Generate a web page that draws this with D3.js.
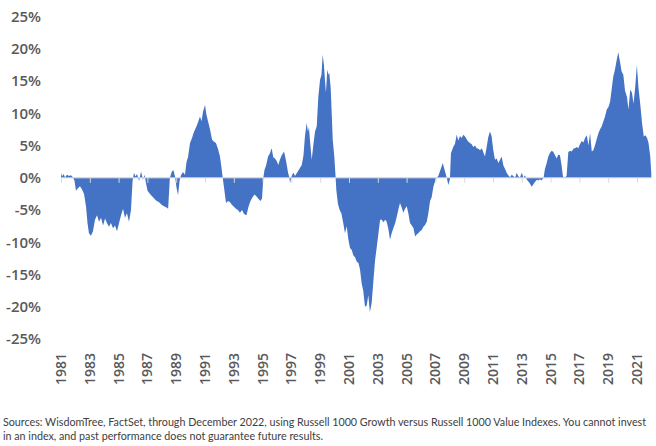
<!DOCTYPE html>
<html>
<head>
<meta charset="utf-8">
<script src="https://cdn.jsdelivr.net/npm/d3@7"></script>
<style>
  html, body { margin: 0; padding: 0; background: #ffffff; }
  svg { display: block; }
</style>
</head>
<body>
<svg id="chart" width="656" height="446"></svg>
<script>
// ---- data (decimal year, relative performance %) ----
const dates = [
  1981.00,1981.07,1981.17,1981.28,1981.42,1981.56,1981.69,1981.83,1981.94,
  1982.04,1982.18,1982.32,1982.46,1982.60,1982.74,1982.84,1982.94,
  1983.08,1983.22,1983.36,1983.50,1983.64,1983.78,1983.92,
  1984.06,1984.19,1984.33,1984.47,1984.61,1984.75,1984.89,
  1985.03,1985.17,1985.31,1985.44,1985.58,1985.72,1985.86,1985.97,
  1986.07,1986.17,1986.28,1986.42,1986.56,1986.69,1986.80,1986.90,
  1987.01,1987.18,1987.39,1987.60,1987.81,
  1988.01,1988.15,1988.33,1988.44,1988.56,1988.70,1988.80,1988.92,
  1989.02,1989.13,1989.23,1989.33,1989.47,1989.61,1989.72,1989.82,1989.96,
  1990.10,1990.20,1990.31,1990.41,1990.51,1990.65,1990.76,1990.86,
  1991.00,1991.10,1991.21,1991.35,1991.49,1991.63,1991.76,1991.90,
  1992.04,1992.15,1992.23,1992.32,1992.46,1992.60,1992.74,1992.88,
  1993.01,1993.15,1993.29,1993.43,1993.57,1993.71,1993.88,
  1994.02,1994.16,1994.30,1994.44,1994.58,1994.72,1994.85,1994.96,
  1995.05,1995.13,1995.24,1995.38,1995.51,1995.63,1995.74,1995.86,1995.98,
  1996.09,1996.20,1996.33,1996.49,1996.63,1996.77,1996.84,1996.91,1996.98,
  1997.08,1997.15,1997.25,1997.39,1997.53,1997.72,1997.84,1997.94,
  1998.06,1998.15,1998.22,1998.29,1998.41,1998.52,1998.64,1998.76,1998.87,1998.99,
  1999.09,1999.17,1999.26,1999.33,1999.40,1999.49,1999.57,1999.63,1999.73,1999.80,1999.87,1999.98,
  2000.06,2000.12,2000.23,2000.35,2000.47,2000.60,2000.72,2000.84,2000.95,
  2001.07,2001.19,2001.30,2001.42,2001.54,2001.66,2001.77,2001.88,2001.99,
  2002.11,2002.23,2002.34,2002.45,2002.57,2002.70,2002.81,2002.93,
  2003.05,2003.16,2003.28,2003.39,2003.51,2003.62,2003.74,2003.85,2003.97,
  2004.08,2004.21,2004.32,2004.42,2004.54,2004.66,2004.77,2004.89,
  2005.01,2005.12,2005.24,2005.36,2005.48,2005.59,2005.70,2005.81,2005.93,
  2006.05,2006.17,2006.28,2006.40,2006.51,2006.63,2006.74,2006.86,2006.98,
  2007.09,2007.20,2007.36,2007.51,2007.64,2007.78,2007.90,
  2008.01,2008.08,2008.24,2008.36,2008.48,2008.59,2008.71,2008.83,2008.94,
  2009.06,2009.17,2009.29,2009.40,2009.52,2009.63,2009.75,2009.87,2009.99,
  2010.10,2010.22,2010.34,2010.44,2010.56,2010.67,2010.79,2010.90,
  2011.02,2011.14,2011.26,2011.37,2011.49,2011.60,2011.72,2011.83,2011.95,
  2012.06,2012.18,2012.30,2012.41,2012.53,2012.65,2012.76,2012.88,
  2013.00,2013.12,2013.22,2013.35,2013.47,2013.57,2013.69,2013.81,2013.92,
  2014.05,2014.16,2014.26,2014.37,2014.51,2014.61,2014.73,2014.84,2014.96,
  2015.08,2015.19,2015.31,2015.42,2015.53,2015.65,2015.77,2015.86,2015.97,
  2016.11,2016.23,2016.35,2016.47,2016.58,2016.69,2016.81,2016.92,
  2017.04,2017.16,2017.28,2017.39,2017.51,2017.63,2017.74,2017.86,2017.97,
  2018.08,2018.20,2018.33,2018.43,2018.55,2018.67,2018.78,2018.90,
  2019.02,2019.13,2019.24,2019.35,2019.47,2019.59,2019.70,2019.82,2019.93,
  2020.05,2020.17,2020.30,2020.41,2020.53,2020.65,2020.76,2020.89,2020.99,
  2021.10,2021.24,2021.35,2021.47,2021.58,2021.70,2021.80,2021.92,2021.99
];
const values = [
  0.8,0.2,0.6,0.1,0.5,0.3,0.4,0.1,-0.5,
  -2.0,-1.6,-1.3,-1.8,-2.5,-4.5,-7.0,-8.6,
  -9.0,-8.3,-6.5,-5.8,-6.8,-6.2,-7.4,
  -6.3,-7.0,-7.6,-7.0,-7.8,-7.4,-8.3,
  -7.0,-5.8,-4.8,-6.2,-5.5,-6.8,-5.0,-0.5,
  0.8,0.2,0.6,-0.5,1.0,-0.3,0.5,-0.8,
  -2.0,-2.5,-3.0,-3.5,-3.8,
  -4.2,-4.4,-4.6,-4.8,0.0,1.0,1.2,0.2,
  -1.5,-2.7,-0.5,0.4,0.9,0.5,2.5,3.2,5.4,
  6.2,6.9,7.5,8.0,8.6,9.5,8.8,10.2,
  11.3,9.8,8.8,7.5,5.9,5.6,5.4,4.5,
  3.3,1.5,0.0,-1.5,-3.9,-3.6,-3.8,-4.2,
  -4.5,-4.8,-5.0,-5.4,-5.0,-5.6,-5.8,
  -4.5,-3.6,-3.0,-2.6,-2.9,-3.3,-3.6,-3.2,
  0.0,1.2,1.9,3.3,3.8,4.6,3.2,3.0,2.6,
  2.0,2.8,3.5,4.1,2.6,0.8,0.2,-0.8,0.0,
  0.6,0.8,0.3,0.8,1.3,2.0,3.5,6.4,
  8.5,7.2,7.8,5.8,2.8,5.0,7.2,8.0,12.6,15.2,
  16.0,19.1,17.5,15.2,13.2,16.8,16.0,16.3,13.9,10.0,5.9,3.3,
  0.5,-1.9,-4.0,-5.0,-5.5,-7.0,-8.6,-7.5,-9.5,
  -10.9,-11.2,-12.0,-12.3,-13.0,-13.2,-14.3,-16.4,-17.5,
  -20.0,-19.8,-18.2,-20.8,-19.5,-15.8,-12.8,-10.7,
  -8.5,-6.5,-6.5,-6.9,-6.5,-6.8,-8.0,-9.6,-8.5,
  -7.8,-7.0,-6.0,-5.0,-3.9,-4.6,-5.4,-4.8,
  -4.4,-5.5,-7.0,-7.4,-7.8,-9.1,-8.8,-8.6,-8.3,
  -8.1,-7.6,-7.3,-6.8,-5.5,-3.6,-3.0,-1.4,-0.5,
  0.0,0.3,1.3,2.3,1.2,0.1,-1.1,
  -0.2,3.8,4.8,5.3,6.7,5.8,6.5,6.2,6.7,
  6.4,6.0,5.6,5.4,5.2,4.8,5.0,4.6,4.5,
  4.3,4.6,3.9,3.3,4.8,6.3,7.2,6.5,
  4.3,2.8,3.0,2.3,2.8,3.3,1.9,1.4,0.8,
  0.4,0.1,0.5,0.3,0.0,0.8,0.2,0.1,
  0.8,0.0,0.4,-0.3,-0.6,-0.9,-1.4,-1.0,-0.6,
  -0.3,-0.4,-0.2,-0.4,0.0,1.4,2.3,3.3,3.9,
  4.2,4.0,3.5,3.0,3.6,3.5,1.8,0.2,0.0,
  0.3,4.0,4.2,4.1,4.5,4.6,4.8,4.6,
  5.2,5.7,5.5,6.2,6.6,5.0,6.9,4.1,4.3,
  5.0,6.0,7.0,7.5,8.0,8.8,9.5,10.6,
  11.0,11.8,13.7,15.7,16.8,18.3,19.5,18.0,16.5,
  16.0,13.5,12.6,10.6,13.7,13.2,11.5,14.5,17.5,
  14.0,11.1,8.5,6.4,6.6,6.2,5.4,3.3,0.8
];
const yTicks = [25, 20, 15, 10, 5, 0, -5, -10, -15, -20, -25];
const xTickYears = [1981,1983,1985,1987,1989,1991,1993,1995,1997,1999,2001,2003,2005,2007,2009,2011,2013,2015,2017,2019,2021];
const footnoteLines = [
  "Sources: WisdomTree, FactSet, through December 2022, using Russell 1000 Growth versus Russell 1000 Value Indexes. You cannot invest",
  "in an index, and past performance does not guarantee future results."
];

// ---- layout ----
const svg = d3.select("#chart");
const x = d3.scaleLinear().domain([1981, 2021]).range([61, 637]);
const y = d3.scaleLinear().domain([-25, 25]).range([339, 16.7]);

const data = dates.map((d, i) => ({ d, v: values[i] }));

// area
const area = d3.area()
  .x(p => x(p.d))
  .y0(y(0))
  .y1(p => y(p.v));
svg.append("path")
  .datum(data)
  .attr("d", area)
  .attr("fill", "#4472C4");

// zero axis with ticks
const xAxis = d3.axisBottom(x)
  .tickValues(xTickYears)
  .tickSize(5)
  .tickFormat("");
const gx = svg.append("g")
  .attr("transform", `translate(0,${y(0)})`)
  .call(xAxis);
gx.select(".domain").remove();
gx.selectAll(".tick line").attr("stroke", "#d9d9d9").attr("stroke-width", 1);
gx.append("line")
  .attr("x1", x(1981)).attr("x2", x(2022))
  .attr("y1", 0).attr("y2", 0)
  .attr("stroke", "#d9d9d9").attr("stroke-width", 1);

// y labels
const yAxis = d3.axisLeft(y)
  .tickValues(yTicks)
  .tickSize(0)
  .tickPadding(0)
  .tickFormat(d => d + "%");
const gy = svg.append("g")
  .attr("transform", "translate(41,0)")
  .call(yAxis);
gy.select(".domain").remove();
gy.selectAll("text")
  .attr("font-family", "'Open Sans', Lato, sans-serif")
  .attr("font-weight", 600)
  .attr("font-size", 15)
  .attr("fill", "#595959");

// x labels (rotated)
svg.append("g").selectAll("text")
  .data(xTickYears)
  .join("text")
  .attr("transform", d => `translate(${x(d) + 5},353) rotate(-90)`)
  .attr("text-anchor", "end")
  .attr("font-family", "'Open Sans', Lato, sans-serif")
  .attr("font-weight", 600)
  .attr("font-size", 14)
  .attr("fill", "#595959")
  .text(d => d);

// footnote: fit the first line to the available width by font size
const fn = svg.append("g")
  .attr("font-family", "'Liberation Sans Narrow', Lato, 'Open Sans', sans-serif")
  .attr("fill", "#404040");
const baseSize = 12;
const t1 = fn.append("text").attr("x", 3).attr("y", 426).attr("font-size", baseSize).text(footnoteLines[0]);
const w1 = t1.node().getComputedTextLength();
const fitSize = Math.min(12, baseSize * 644 / w1);
t1.attr("font-size", fitSize);
fn.append("text").attr("x", 3).attr("y", 440).attr("font-size", fitSize).text(footnoteLines[1]);
</script>
</body>
</html>
